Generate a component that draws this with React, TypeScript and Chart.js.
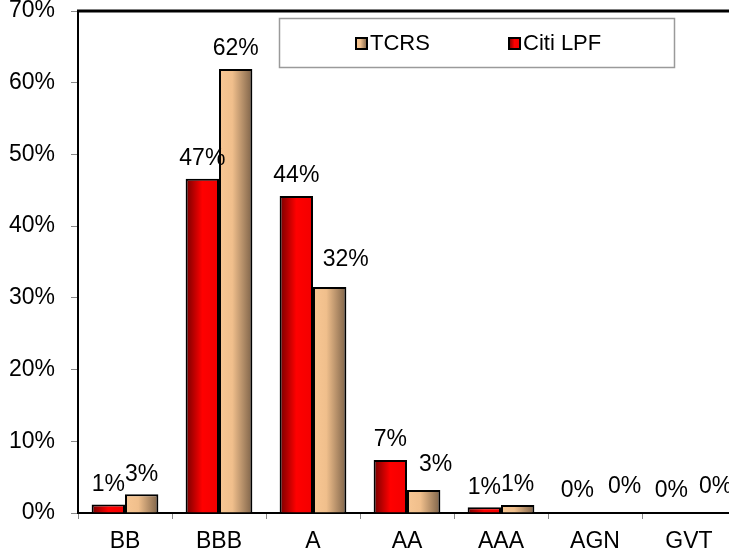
import React, { useEffect, useRef } from "react";
import { Chart, registerables } from "chart.js";

Chart.register(...registerables);

const categories = ["BB", "BBB", "A", "AA", "AAA", "AGN", "GVT"];
const citiLPF = [1.2, 46.6, 44.2, 7.4, 0.8, 0, 0];
const tcrs = [2.6, 61.9, 31.5, 3.2, 1.1, 0, 0];
const yMax = 70;
const yStep = 10;

// label nudges (style only)
const citiLabelDx = [0, 0, 0, 0, 0, -1, -1];
const citiLabelDy = [0, 0, 0, 0, 0, -2, -2];
const tcrsLabelDx = [0, 0, 16, 12, 0, 13, 10];
const tcrsLabelDy = [0, 0, -7, -5, 0, -6, -6];

const FONT = "'Liberation Sans', Arial, sans-serif";
const CAT_PCT = 0.71;

function barGradient(chart: any, dsIndex: number, index: number, stops: [number, string][]) {
  const xs = chart.scales && chart.scales.x;
  if (!xs || !chart.ctx) return stops[1][1];
  const center = xs.getPixelForValue(index);
  const catW = xs.width / categories.length;
  const barW = (catW * CAT_PCT) / 2;
  const left = dsIndex === 0 ? center - barW : center;
  if (!isFinite(left) || !isFinite(barW) || barW <= 0) return stops[1][1];
  const g = chart.ctx.createLinearGradient(left, 0, left + barW, 0);
  stops.forEach(([o, c]) => g.addColorStop(o, c));
  return g;
}

const redStops: [number, string][] = [
  [0, "#740000"],
  [0.5, "#ff0000"],
  [1, "#f20000"],
];
const tanStops: [number, string][] = [
  [0, "#f8c794"],
  [0.4, "#f0bf8c"],
  [1, "#7d6248"],
];

const extrasPlugin = {
  id: "extras",
  afterDraw(chart: any) {
    const ctx = chart.ctx;
    const area = chart.chartArea;
    ctx.save();
    // top frame line
    ctx.strokeStyle = "#000";
    ctx.lineWidth = 3;
    ctx.beginPath();
    ctx.moveTo(area.left - 1, area.top);
    ctx.lineTo(area.right + 2, area.top);
    ctx.stroke();

    // value labels
    ctx.fillStyle = "#000";
    ctx.font = `23px ${FONT}`;
    ctx.textAlign = "center";
    ctx.textBaseline = "middle";
    chart.data.datasets.forEach((ds: any, di: number) => {
      const meta = chart.getDatasetMeta(di);
      const dxs = di === 0 ? citiLabelDx : tcrsLabelDx;
      const dys = di === 0 ? citiLabelDy : tcrsLabelDy;
      meta.data.forEach((el: any, i: number) => {
        const v = ds.data[i];
        ctx.fillText(Math.round(v) + "%", el.x + dxs[i], el.y - 20 + dys[i]);
      });
    });

    // legend box
    const lx = 279, ly = 18, lw = 395, lh = 49;
    ctx.fillStyle = "#fff";
    ctx.fillRect(lx, ly, lw, lh);
    ctx.strokeStyle = "#9a9a9a";
    ctx.lineWidth = 1.5;
    ctx.strokeRect(lx + 0.5, ly + 0.5, lw, lh);
    const items = [
      { label: chart.data.datasets[1].label, stops: tanStops, x: 356 },
      { label: chart.data.datasets[0].label, stops: redStops, x: 509 },
    ];
    items.forEach((it) => {
      const sy = 38;
      const g = ctx.createLinearGradient(it.x, 0, it.x + 11, 0);
      it.stops.forEach(([o, c]: [number, string]) => g.addColorStop(o, c));
      ctx.fillStyle = g;
      ctx.fillRect(it.x, sy, 11, 11);
      ctx.strokeStyle = "#000";
      ctx.lineWidth = 2;
      ctx.strokeRect(it.x, sy, 11, 11);
      ctx.fillStyle = "#000";
      ctx.font = `22px ${FONT}`;
      ctx.textAlign = "left";
      ctx.textBaseline = "middle";
      ctx.fillText(it.label, it.x + 14, 44);
    });
    ctx.restore();
  },
};

export default function App() {
  const ref = useRef<HTMLCanvasElement | null>(null);
  useEffect(() => {
    if (!ref.current) return;
    const chart = new Chart(ref.current, {
      type: "bar",
      data: {
        labels: categories,
        datasets: [
          {
            label: "Citi LPF",
            data: citiLPF,
            backgroundColor: (c: any) => barGradient(c.chart, 0, c.dataIndex, redStops),
            borderColor: "#000",
            borderWidth: 2,
            categoryPercentage: CAT_PCT,
            barPercentage: 1,
          },
          {
            label: "TCRS",
            data: tcrs,
            backgroundColor: (c: any) => barGradient(c.chart, 1, c.dataIndex, tanStops),
            borderColor: "#000",
            borderWidth: 2,
            categoryPercentage: CAT_PCT,
            barPercentage: 1,
          },
        ],
      },
      options: {
        responsive: false,
        devicePixelRatio: 1,
        animation: false,
        layout: { padding: { left: 0, right: 9, top: 11, bottom: 0 } },
        plugins: {
          legend: { display: false },
          tooltip: { enabled: false },
        },
        scales: {
          x: {
            grid: {
              display: true,
              drawOnChartArea: false,
              tickLength: 6,
              color: "#888",
              offset: true,
            },
            border: { display: true, color: "#000", width: 2 },
            ticks: {
              color: "#000",
              font: { family: FONT, size: 23 },
              padding: 9,
              maxRotation: 0,
            },
            afterFit: (s: any) => {
              s.height = 43;
              s.paddingLeft = 0;
              s.paddingRight = 0;
            },
          },
          y: {
            min: 0,
            max: yMax,
            grid: {
              display: true,
              drawOnChartArea: false,
              tickLength: 7,
              color: "#888",
            },
            border: { display: true, color: "#000", width: 2 },
            ticks: {
              stepSize: yStep,
              color: "#000",
              font: { family: FONT, size: 23 },
              padding: 16,
              callback: (v: any) => v + "%",
            },
            afterFit: (s: any) => {
              s.width = 78;
              s.paddingTop = 0;
              s.paddingBottom = 0;
            },
          },
        },
      },
      plugins: [extrasPlugin],
    });
    return () => chart.destroy();
  }, []);
  return (
    <div
      style={{
        position: "fixed",
        left: 0,
        top: 0,
        width: 729,
        height: 556,
        overflow: "hidden",
        background: "#fff",
      }}
    >
      <canvas
        ref={ref}
        width={745}
        height={556}
        style={{ display: "block", width: 745, height: 556 }}
      />
    </div>
  );
}
